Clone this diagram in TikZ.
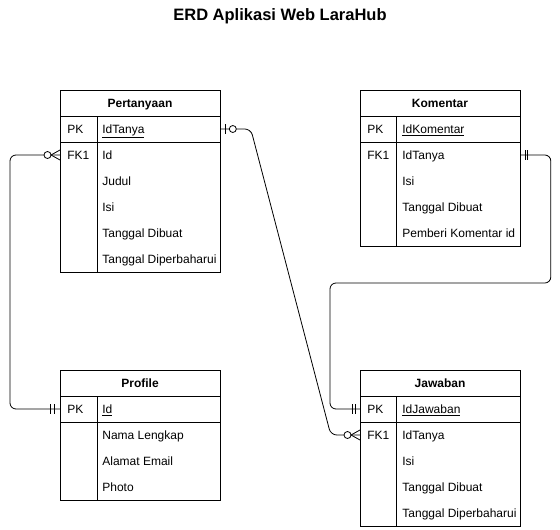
\documentclass[tikz,border=0pt]{standalone}
\usepackage{fontspec}
\setmainfont{Liberation Sans}
\usetikzlibrary{calc}
\begin{document}
\begin{tikzpicture}[x=1pt,y=-1pt,line width=0.8pt,
  tbl/.style={draw, minimum width=160pt, minimum height=#1, anchor=north west, inner sep=0pt},
  hdr/.style={font=\fontsize{12}{14}\selectfont\bfseries, inner sep=0pt, text height=10pt, text depth=1.5pt},
  key/.style={font=\fontsize{12}{14}\selectfont, anchor=west, inner sep=0pt, text height=10pt, text depth=1.5pt},
  attr/.style={font=\fontsize{12}{14}\selectfont, anchor=west, inner sep=0pt, text height=10pt, text depth=1.5pt},
  conn/.style={draw, rounded corners=6pt},
  zmany/.pic={\draw (0,-5) -- (-9,0) -- (0,5); \draw[fill=white] (-12.5,0) circle (3.5pt);},
  mone/.pic={\draw (-10,-5) -- (-10,5) (-6,-5) -- (-6,5);},
  zone/.pic={\draw (-5,-5) -- (-5,5); \draw[fill=white] (-12,0) circle (3.5pt);}
]
\fill[white] (0,0) rectangle (560,530);
\useasboundingbox (0,0) rectangle (560,530);

\node[font=\fontsize{16.5}{19}\selectfont\bfseries] (title) at (280,16) {ERD Aplikasi Web LaraHub};

% Pertanyaan
\node[tbl=182pt] (pert) at (60,90) {};
\draw (60,116) -- (220,116) (60,142) -- (220,142) (97,116) -- (97,272);
\node[hdr] (pertH) at (140,103) {Pertanyaan};
\node[key] (pertPK) at (67,129) {PK};
\node[attr] (pertA1) at (102,129) {\underline{IdTanya}};
\node[key] (pertFK) at (67,155) {FK1};
\node[attr] (pertA2) at (102,155) {Id};
\node[attr] (pertA3) at (102,181) {Judul};
\node[attr] (pertA4) at (102,207) {Isi};
\node[attr] (pertA5) at (102,233) {Tanggal Dibuat};
\node[attr] (pertA6) at (102,259) {Tanggal Diperbaharui};

% Komentar
\node[tbl=156pt] (kom) at (360,90) {};
\draw (360,116) -- (520,116) (360,142) -- (520,142) (396,116) -- (396,246);
\node[hdr] (komH) at (440,103) {Komentar};
\node[key] (komPK) at (367,129) {PK};
\node[attr] (komA1) at (402,129) {\underline{IdKomentar}};
\node[key] (komFK) at (367,155) {FK1};
\node[attr] (komA2) at (402,155) {IdTanya};
\node[attr] (komA3) at (402,181) {Isi};
\node[attr] (komA4) at (402,207) {Tanggal Dibuat};
\node[attr] (komA5) at (402,233) {Pemberi Komentar id};

% Profile
\node[tbl=130pt] (prof) at (60,370) {};
\draw (60,396) -- (220,396) (60,422) -- (220,422) (97,396) -- (97,500);
\node[hdr] (profH) at (140,383) {Profile};
\node[key] (profPK) at (67,409) {PK};
\node[attr] (profA1) at (102,409) {\underline{Id}};
\node[attr] (profA2) at (102,435) {Nama Lengkap};
\node[attr] (profA3) at (102,461) {Alamat Email};
\node[attr] (profA4) at (102,487) {Photo};

% Jawaban
\node[tbl=156pt] (jaw) at (360,370) {};
\draw (360,396) -- (520,396) (360,422) -- (520,422) (396,396) -- (396,526);
\node[hdr] (jawH) at (440,383) {Jawaban};
\node[key] (jawPK) at (367,409) {PK};
\node[attr] (jawA1) at (402,409) {\underline{IdJawaban}};
\node[key] (jawFK) at (367,435) {FK1};
\node[attr] (jawA2) at (402,435) {IdTanya};
\node[attr] (jawA3) at (402,461) {Isi};
\node[attr] (jawA4) at (402,487) {Tanggal Dibuat};
\node[attr] (jawA5) at (402,513) {Tanggal Diperbaharui};

% connectors
\coordinate (pFK) at (pert.west |- pertFK.center);
\coordinate (prPK) at (prof.west |- profPK.center);
\coordinate (pPK) at (pert.east |- pertPK.center);
\coordinate (jFK) at (jaw.west |- jawFK.center);
\coordinate (jPK) at (jaw.west |- jawPK.center);
\coordinate (kFK) at (kom.east |- komFK.center);

\draw[conn] (pFK) -- ++(-50,0) |- (prPK);
\draw[conn] (pPK) -- ++(30,0) -- ++(80,306) -- (jFK);
\draw[conn] (kFK) -- ++(30,0) -- ++(0,128) -| ($(jPK)+(-30,0)$) -- (jPK);

\path (pFK) pic {zmany};
\path (prPK) pic {mone};
\path (pPK) pic[xscale=-1] {zone};
\path (jFK) pic {zmany};
\path (jPK) pic[xscale=0.8] {mone};
\path (kFK) pic[xscale=-0.7] {mone};
\end{tikzpicture}
\end{document}
